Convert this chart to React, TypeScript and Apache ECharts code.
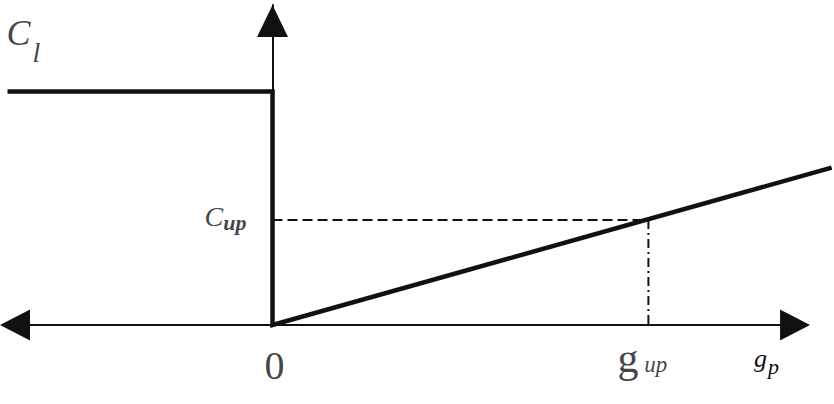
import React, { useEffect, useRef } from 'react';
import * as echarts from 'echarts';

// Piecewise curve: constant C_l for g_p < 0, then linear growth from the origin
const curveX = [-2.82, 0, 0, 5.95];
const curveY = [4.45, 4.45, 0, 3.0];
// Reference point (g_up, C_up)
const G_UP = 4;
const C_UP = 2;
const guideHX = [0, G_UP];
const guideHY = [C_UP, C_UP];
const guideVX = [G_UP, G_UP];
const guideVY = [C_UP, 0];
// Axis extents
const X_MIN = -2.9;
const X_MAX = 5.975;
const Y_MIN = 0;
const Y_MAX = 6.1;
// Horizontal axis arrow tips
const H_AXIS_TIPS = [-2.9, 5.72];

const SERIF = "'Liberation Serif', 'Times New Roman', serif";
const INK = '#111';
const W = 834;
const ARROW_LEN = 30;

export default function App() {
  const ref = useRef<HTMLDivElement>(null);
  useEffect(() => {
    if (!ref.current) return;
    const chart = echarts.init(ref.current, undefined, { renderer: 'svg' });
    const zip = (xs: number[], ys: number[]) => xs.map((x, i) => [x, ys[i]]);
    // markLine symbols are centred on the end points: pull them in by half an arrow
    const half = ((X_MAX - X_MIN) / W) * (ARROW_LEN / 2);
    const hStart = H_AXIS_TIPS[0] + half;
    const hEnd = H_AXIS_TIPS[1] - half;
    const option: any = {
      animation: false,
      backgroundColor: '#fff',
      grid: { left: 0, right: 0, top: 5, bottom: 79 },
      xAxis: {
        type: 'value',
        min: X_MIN,
        max: X_MAX,
        splitLine: { show: false },
        axisTick: { show: false },
        axisLabel: { show: false },
        axisLine: { show: false },
        name: '{g|g}{p|p}',
        nameLocation: 'end',
        nameGap: -80,
        nameTextStyle: {
          align: 'left',
          verticalAlign: 'top',
          padding: [20, 0, 0, 0],
          rich: {
            g: { fontFamily: SERIF, fontStyle: 'italic', fontSize: 26, color: INK, lineHeight: 26, verticalAlign: 'top' },
            p: { fontFamily: SERIF, fontStyle: 'italic', fontSize: 22, color: INK, lineHeight: 22, verticalAlign: 'top', padding: [10, 0, 0, 1] },
          },
        },
      },
      yAxis: {
        type: 'value',
        min: Y_MIN,
        max: Y_MAX,
        splitLine: { show: false },
        axisTick: { show: false },
        axisLabel: { show: false },
        axisLine: {
          onZero: true,
          symbol: ['none', 'triangle'],
          symbolSize: [31, 32],
          symbolOffset: [0, -16],
          lineStyle: { color: INK, width: 2 },
        },
      },
      series: [
        {
          type: 'line',
          data: zip(guideHX, guideHY),
          symbol: 'none',
          lineStyle: { color: INK, width: 2, type: [10, 5] },
          z: 2,
        },
        {
          type: 'line',
          data: zip(guideVX, guideVY),
          symbol: 'none',
          lineStyle: { color: INK, width: 2, type: [9, 4, 2, 4] },
          z: 2,
        },
        {
          type: 'line',
          data: zip(curveX, curveY),
          symbol: 'none',
          clip: false,
          lineStyle: { color: INK, width: 4.5, join: 'miter' },
          z: 3,
          markLine: {
            silent: true,
            animation: false,
            symbol: ['triangle', 'triangle'],
            symbolSize: [31, ARROW_LEN],
            label: { show: false },
            lineStyle: { color: INK, width: 2, type: 'solid' },
            emphasis: { disabled: true },
            data: [[{ coord: [hStart, 0] }, { coord: [hEnd, 0] }]],
          },
        },
        {
          type: 'scatter',
          symbolSize: 0,
          clip: false,
          silent: true,
          z: 4,
          data: [
            {
              value: [curveX[0], curveY[0]],
              label: {
                show: true,
                formatter: '{c|C}{l|l}',
                position: [-1, -77],
                align: 'left',
                verticalAlign: 'top',
                rich: {
                  c: { fontFamily: SERIF, fontStyle: 'italic', fontSize: 36, color: INK, lineHeight: 34, verticalAlign: 'top' },
                  l: { fontFamily: SERIF, fontStyle: 'italic', fontSize: 28, color: INK, lineHeight: 28, verticalAlign: 'top', padding: [24, 0, 0, 2] },
                },
              },
            },
            {
              value: [0, C_UP],
              label: {
                show: true,
                formatter: '{c|C}{u|up}',
                position: 'left',
                distance: 26,
                offset: [0, -4],
                rich: {
                  c: { fontFamily: SERIF, fontStyle: 'italic', fontSize: 28, color: INK, lineHeight: 28, verticalAlign: 'top' },
                  u: { fontFamily: SERIF, fontStyle: 'italic', fontWeight: 'bold', fontSize: 22, color: INK, lineHeight: 22, verticalAlign: 'top', padding: [9, 0, 0, 0] },
                },
              },
            },
            {
              value: [0, 0],
              label: {
                show: true,
                formatter: '0',
                position: 'bottom',
                distance: 20,
                offset: [2, 0],
                fontFamily: SERIF,
                fontSize: 40,
                color: INK,
              },
            },
            {
              value: [G_UP, 0],
              label: {
                show: true,
                formatter: '{g|g}{u| up}',
                position: 'bottom',
                distance: 12,
                offset: [-6, 0],
                rich: {
                  g: { fontFamily: SERIF, fontSize: 42, color: INK, lineHeight: 42, verticalAlign: 'top' },
                  u: { fontFamily: SERIF, fontStyle: 'italic', fontSize: 23, color: INK, lineHeight: 23, verticalAlign: 'top', padding: [16, 0, 0, 0] },
                },
              },
            },
          ],
        },
      ],
    };
    chart.setOption(option);
    return () => chart.dispose();
  }, []);
  return (
    <div
      ref={ref}
      style={{ position: 'fixed', left: 0, top: 0, width: W, height: 404, background: '#fff' }}
    />
  );
}
